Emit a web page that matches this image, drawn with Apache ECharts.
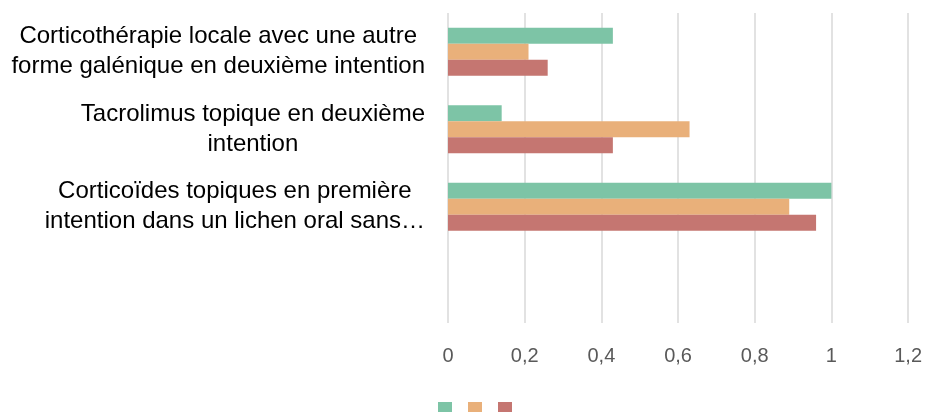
<!DOCTYPE html>
<html>
<head>
<meta charset="utf-8">
<script src="https://cdn.jsdelivr.net/npm/echarts@6/dist/echarts.min.js"></script>
<style>
  html, body { margin: 0; padding: 0; background: #fff; }
  #chart { width: 925px; height: 412px; }
</style>
</head>
<body>
<div id="chart"></div>
<script>
// categories listed top to bottom, the last slot is empty in the original
const categories = [
  'Corticothérapie locale avec une autre\nforme galénique en deuxième intention',
  'Tacrolimus topique en deuxième\nintention',
  'Corticoïdes topiques en première\nintention dans un lichen oral sans…',
  ''
];
const seriesNames = ['Série 1', 'Série 2', 'Série 3'];
const greenValues = [0.43, 0.14, 1.0, null];
const orangeValues = [0.21, 0.63, 0.89, null];
const redValues = [0.26, 0.43, 0.96, null];
const xTicks = [0, 0.2, 0.4, 0.6, 0.8, 1, 1.2];

const colors = ['#7dc4a6', '#e9b07a', '#c57671'];

// echarts draws the first category at the bottom, so flip the categories
const rev = (arr) => arr.slice().reverse();

const chart = echarts.init(document.getElementById('chart'));

function bar(name, data, color) {
  return {
    name: name, type: 'bar', data: rev(data),
    barWidth: 16, barGap: '0%',
    itemStyle: { color: color },
    emphasis: { disabled: true }
  };
}

chart.setOption({
  animation: false,
  grid: { left: 448, right: 16, top: 13, bottom: 89, containLabel: false },
  legend: {
    data: seriesNames,
    left: 433, top: 397,
    itemWidth: 14, itemHeight: 10, itemGap: 16,
    icon: 'rect',
    formatter: () => ''
  },
  xAxis: {
    type: 'value', min: 0, max: 1.2, interval: 0.2,
    axisLine: { show: false }, axisTick: { show: false },
    splitLine: { lineStyle: { color: '#d9d9d9', width: 1.5 } },
    axisLabel: {
      color: '#595959', fontSize: 20, margin: 23,
      fontFamily: 'Liberation Sans, Arial, sans-serif',
      formatter: (v) => {
        const t = xTicks.find((x) => Math.abs(x - v) < 1e-9);
        return String(t === undefined ? v : t).replace('.', ',');
      }
    }
  },
  yAxis: {
    type: 'category', data: rev(categories),
    axisLine: { show: false }, axisTick: { show: false },
    axisLabel: {
      margin: 23, align: 'right',
      formatter: (v) => v ? v.split('\n').map((l) => '{c|' + l + '}').join('\n') : '',
      rich: {
        c: {
          align: 'center', color: '#000', fontSize: 24, lineHeight: 30,
          fontFamily: 'Liberation Sans, Arial, sans-serif'
        }
      }
    }
  },
  series: [
    bar(seriesNames[0], greenValues, colors[0]),
    bar(seriesNames[1], orangeValues, colors[1]),
    bar(seriesNames[2], redValues, colors[2])
  ]
});
</script>
</body>
</html>
